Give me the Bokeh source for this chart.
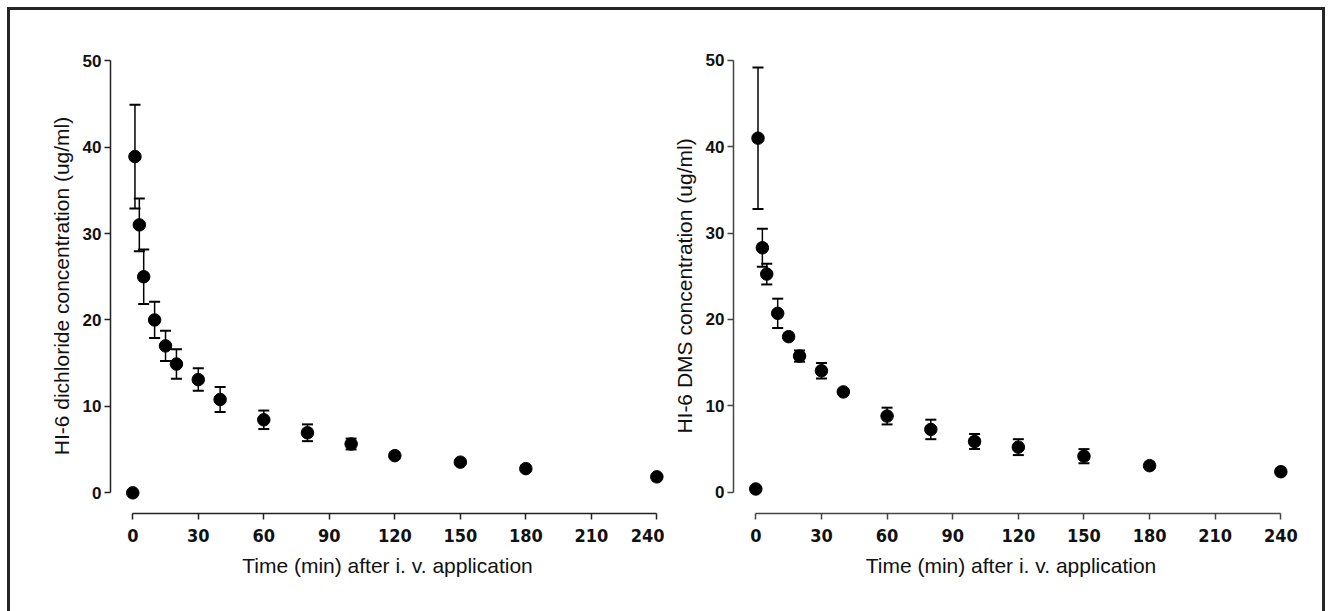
from bokeh.plotting import figure
from bokeh.models import ColumnDataSource, Whisker, TeeHead, FixedTicker, Range1d
from bokeh.layouts import row
from bokeh.embed import file_html
from bokeh.resources import INLINE

# ---- data ----
time_min = [0, 1, 3, 5, 10, 15, 20, 30, 40, 60, 80, 100, 120, 150, 180, 240]
dichloride_mean = [0.0, 38.9, 31.0, 25.0, 20.0, 17.0, 14.9, 13.1, 10.8, 8.45, 6.95, 5.65, 4.3, 3.55, 2.8, 1.85]
dichloride_sd = [0, 6.0, 3.05, 3.15, 2.1, 1.75, 1.7, 1.3, 1.45, 1.07, 0.97, 0.63, 0, 0, 0, 0]
dms_mean = [0.35, 41.0, 28.3, 25.25, 20.7, 18.0, 15.75, 14.05, 11.6, 8.8, 7.25, 5.85, 5.2, 4.15, 3.05, 2.35]
dms_sd = [0, 8.2, 2.2, 1.2, 1.7, 0, 0.65, 0.9, 0, 0.97, 1.13, 0.87, 0.92, 0.82, 0, 0]
x_ticks = [0, 30, 60, 90, 120, 150, 180, 210, 240]
y_ticks = [0, 10, 20, 30, 40, 50]
left_title = "HI-6 dichloride concentration (ug/ml)"
right_title = "HI-6 DMS concentration (ug/ml)"
x_title = "Time (min) after i. v. application"

TICK_FONT = "'Liberation Sans Narrow', 'DejaVu Sans Condensed', 'Liberation Sans', sans-serif"
TITLE_FONT = "'Liberation Sans', Arial, sans-serif"


def make_panel(mean, sd, ylabel, y_range, width, mb_left, mb_right, mb_top, mb_bottom, axis_color):
    p = figure(width=width, height=601, x_range=Range1d(-10.2, 243.5), y_range=Range1d(*y_range),
               output_backend="svg", toolbar_location=None,
               min_border_left=mb_left, min_border_right=mb_right,
               min_border_top=mb_top, min_border_bottom=mb_bottom)
    p.grid.visible = False
    p.outline_line_color = None
    p.background_fill_color = "white"
    p.border_fill_color = "white"

    for ax in (p.xaxis[0], p.yaxis[0]):
        ax.axis_line_color = axis_color
        ax.axis_line_width = 1.5
        ax.major_tick_line_color = axis_color
        ax.major_tick_line_width = 1.5
        ax.major_tick_in = 0
        ax.major_tick_out = 6
        ax.minor_tick_line_color = None
        ax.major_label_text_color = "#111111"
        ax.major_label_text_font_style = "bold"
        ax.axis_label_text_color = "#111111"
        ax.axis_label_text_font = TITLE_FONT
        ax.axis_label_text_font_style = "normal"
        ax.axis_label_text_font_size = "21px"

    p.xaxis.ticker = FixedTicker(ticks=x_ticks)
    p.xaxis.bounds = (x_ticks[0], x_ticks[-1])
    p.xaxis.axis_label = x_title
    p.xaxis.major_label_text_font = TICK_FONT
    p.xaxis.major_label_text_font_size = "18px"
    p.xaxis.major_label_standoff = 9
    p.xaxis.axis_label_standoff = 9

    p.yaxis.ticker = FixedTicker(ticks=y_ticks)
    p.yaxis.bounds = (y_ticks[0], y_ticks[-1])
    p.yaxis.axis_label = ylabel
    p.yaxis.major_label_text_font = TITLE_FONT
    p.yaxis.major_label_text_font_size = "17px"
    p.yaxis.major_label_standoff = 3
    p.yaxis.axis_label_standoff = 7

    lo = [m - s for m, s, in zip(mean, sd)]
    hi = [m + s for m, s, in zip(mean, sd)]
    keep = [i for i, s in enumerate(sd) if s > 0]
    src = ColumnDataSource(dict(t=[time_min[i] for i in keep],
                                lower=[lo[i] for i in keep],
                                upper=[hi[i] for i in keep]))
    w = Whisker(base="t", lower="lower", upper="upper", source=src,
                line_color="black", line_width=1.5, level="underlay",
                upper_head=TeeHead(size=11, line_width=2, line_color="black"),
                lower_head=TeeHead(size=11, line_width=2, line_color="black"))
    p.add_layout(w)
    p.scatter(time_min, mean, size=12.5, color="black")
    return p


p1 = make_panel(dichloride_mean, dichloride_sd, left_title, (-2.39, 50.25), 654, 100, 0, 48, 97, "#222222")
p2 = make_panel(dms_mean, dms_sd, right_title, (-2.49, 50.23), 658, 69, 34, 38, 98, "#444444")

layout = row(p1, p2, styles={"margin-left": "7px", "margin-top": "7px",
                             "border-top": "3px solid #262626",
                             "border-left": "3px solid #262626",
                             "border-right": "3px solid #262626"})

open("out.html", "w").write(file_html(layout, INLINE))
